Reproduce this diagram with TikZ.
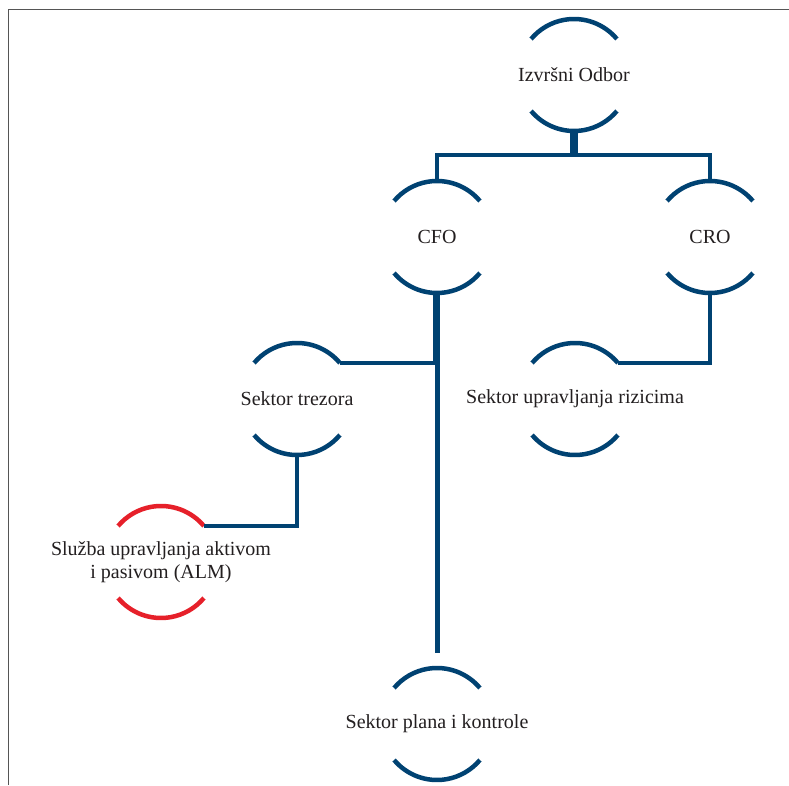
\documentclass[tikz,border=0pt]{standalone}
\usepackage{fontspec}
\setmainfont{Liberation Serif}
\definecolor{orgblue}{RGB}{0,66,114}
\definecolor{orgred}{RGB}{230,32,42}
\definecolor{txtgray}{RGB}{35,31,32}
\definecolor{framegray}{RGB}{85,85,85}
\begin{document}
\begin{tikzpicture}[x=1pt,y=1pt,
  ring/.style={circle,minimum size=112pt,inner sep=0pt,outer sep=0pt},
  caption/.style={text=txtgray,align=center,inner sep=0pt,
    font=\fontsize{20}{23}\selectfont},
  link/.style={draw=orgblue,line width=4.5pt,line join=miter},
  arcs/.style={line width=4.5pt}]
\useasboundingbox (0,0) rectangle (789,785);
\fill[white] (0,0) rectangle (789,785);
% outer frame (top and left edges)
\draw[framegray,line width=1.5pt] (8.5,0) -- (8.5,775.5) -- (789,775.5);

% units: a fixed ring with its caption at the centre
\node[ring] (A) at (574,710) {};
\node[ring] (B) at (437,548) {};
\node[ring] (C) at (710,548) {};
\node[ring] (D) at (297,386) {};
\node[ring] (E) at (575,386) {};
\node[ring] (F) at (161,223) {};
\node[ring] (G) at (437,61) {};

\node[caption] (At) at (A) {Izvršni Odbor};
\node[caption] (Bt) at (B) {CFO};
\node[caption] (Ct) at (C) {CRO};
\node[caption] (Dt) at (D) {Sektor trezora};
\node[caption] (Et) at (E) {Sektor upravljanja rizicima};
\node[caption] (Ft) at (F) {Služba upravljanja aktivom\\i pasivom (ALM)};
\node[caption] (Gt) at (G) {Sektor plana i kontrole};

% upper and lower arcs around each unit
\foreach \n/\c in {A/orgblue,B/orgblue,C/orgblue,D/orgblue,E/orgblue,F/orgred,G/orgblue}{
  \draw[arcs,draw=\c] (\n.40) arc[start angle=40,end angle=140,radius=56pt];
  \draw[arcs,draw=\c] (\n.220) arc[start angle=220,end angle=320,radius=56pt];
}

% reporting lines
\draw[link] ([xshift=-1.5pt]A.south) -- ++(0,-24) -| (B.north);
\draw[link] ([xshift=1.5pt]A.south) -- ++(0,-24) -| (C.north);
\draw[link] ([xshift=-1.5pt]B.south) |- (D.40);
\draw[link,shorten >=15pt] ([xshift=0.5pt]B.south) -- ([xshift=0.5pt]G.north);
\draw[link] (C.south) |- (E.40);
\draw[link] (D.south) |- (F.40);
\end{tikzpicture}
\end{document}
